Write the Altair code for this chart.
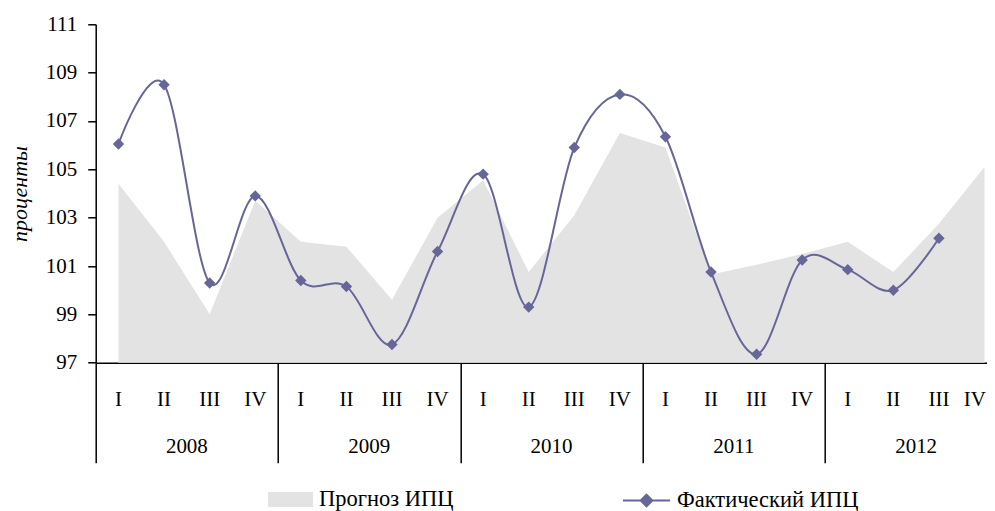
import altair as alt
import pandas as pd

# ---- data ----
quarters = ["I", "II", "III", "IV"] * 5
years = ["2008", "2009", "2010", "2011", "2012"]
forecast = [104.4, 102.0, 99.0, 103.7,
            102.0, 101.8, 99.6, 103.0,
            104.55, 100.75, 103.1, 106.5,
            105.9, 100.65, 101.05, 101.5,
            102.0, 100.75, 102.75, 105.1]
actual = [106.05, 108.5, 100.3, 103.9,
          100.4, 100.15, 97.75, 101.6,
          104.8, 99.3, 105.9, 108.1,
          106.35, 100.75, 97.35, 101.25,
          100.85, 100.0, 102.15, None]
y_ticks = [97, 99, 101, 103, 105, 107, 109, 111]
forecast_name = "Прогноз ИПЦ"
actual_name = "Фактический ИПЦ"
y_title = "проценты"

FONT = "Liberation Serif"
LINE_COLOR = "#666699"
AREA_COLOR = "#E3E3E3"
PLOT_H = 338.4
PLOT_W = 891.3   # frame ends before the last year does, as in the reference
STEP = 45.58     # pixels per quarter

n = len(quarters)
df = pd.DataFrame({
    "idx": list(range(n)),
    "q": quarters,
    "forecast": forecast,
    "actual": actual,
    "f_name": [forecast_name] * n,
    "a_name": [actual_name] * n,
})
year_df = pd.DataFrame({
    "year": years,
    "center": [4 * i + 1.5 for i in range(len(years))],
})
bounds = [4 * i - 0.5 for i in range(len(years))]

x_scale = alt.Scale(domain=[-0.5, -0.5 + PLOT_W / STEP], nice=False, zero=False)
y_scale = alt.Scale(domain=[97, 111], nice=False, zero=False)

x_axis = alt.Axis(values=bounds, tickSize=100, labels=False, title=None, grid=False,
                  domainColor="black", tickColor="black", domainWidth=1.5, tickWidth=1.5)
y_axis = alt.Axis(values=y_ticks, title=y_title, grid=False, tickSize=8,
                  domainColor="black", tickColor="black", domainWidth=1.5, tickWidth=1.5,
                  labelFont=FONT, labelFontSize=21, labelColor="black", labelPadding=11,
                  titleFont=FONT, titleFontSize=22, titleFontStyle="italic",
                  titleFontWeight="normal", titleColor="black", titlePadding=14)

legend_common = dict(orient="none", title=None, padding=0,
                     labelFont=FONT, labelFontSize=22.5, labelColor="black",
                     labelOffset=6, labelLimit=400)

area = alt.Chart(df).mark_area(opacity=1).encode(
    x=alt.X("idx:Q", scale=x_scale, axis=x_axis),
    y=alt.Y("forecast:Q", scale=y_scale, axis=y_axis, stack=None),
    y2=alt.datum(97),
    color=alt.Color("f_name:N", scale=alt.Scale(range=[AREA_COLOR]),
                    legend=alt.Legend(legendX=172.3, legendY=452.7,
                                      symbolType="M-1,-0.333L1,-0.333L1,0.333L-1,0.333Z",
                                      symbolSize=2025, symbolStrokeWidth=0,
                                      **legend_common)),
)

line = alt.Chart(df).mark_line(interpolate="cardinal", strokeWidth=2).encode(
    x=alt.X("idx:Q", scale=x_scale),
    y=alt.Y("actual:Q", scale=y_scale),
    stroke=alt.Stroke("a_name:N", scale=alt.Scale(range=[LINE_COLOR]),
                      legend=alt.Legend(legendX=526.3, legendY=451.7,
                                        symbolType="M-1,0L1,0M0,-0.25L0.25,0L0,0.25L-0.25,0Z",
                                        symbolSize=2209, symbolStrokeWidth=2,
                                        symbolFillColor=LINE_COLOR,
                                        **legend_common)),
)

points = alt.Chart(df).mark_point(shape="diamond", filled=True, size=130,
                                  color=LINE_COLOR, opacity=1).encode(
    x=alt.X("idx:Q", scale=x_scale),
    y=alt.Y("actual:Q", scale=y_scale),
)

q_text = alt.Chart(df.iloc[:-1]).mark_text(font=FONT, fontSize=21, color="black",
                                            baseline="middle").encode(
    x=alt.X("idx:Q", scale=x_scale),
    y=alt.value(PLOT_H + 37),
    text="q:N",
)

# the last quarter label sits against the frame edge; right-align it so it stays whole
q_text_last = alt.Chart(df.iloc[-1:]).mark_text(font=FONT, fontSize=21, color="black",
                                                 baseline="middle", align="right", dx=1.5).encode(
    x=alt.X("idx:Q", scale=x_scale),
    y=alt.value(PLOT_H + 37),
    text="q:N",
)

year_text = alt.Chart(year_df).mark_text(font=FONT, fontSize=21, color="black",
                                         baseline="middle").encode(
    x=alt.X("center:Q", scale=x_scale),
    y=alt.value(PLOT_H + 84.5),
    text="year:N",
)

chart = alt.layer(area, line, points, q_text, q_text_last, year_text).resolve_scale(
    color="independent", stroke="independent"
).properties(
    width=PLOT_W, height=PLOT_H,
    autosize=alt.AutoSizeParams(type="none"),
    padding={"left": 87.7, "top": 16.3, "right": 0, "bottom": 150},
).configure_view(stroke=None).configure_axis(
    labelFont=FONT, labelFontSize=21, labelColor="black",
    titleFont=FONT, titleColor="black",
).configure_axisY(
    labelFont=FONT, labelFontSize=21,
)

chart.save("out.html", embed_options={"renderer": "svg", "actions": False})
